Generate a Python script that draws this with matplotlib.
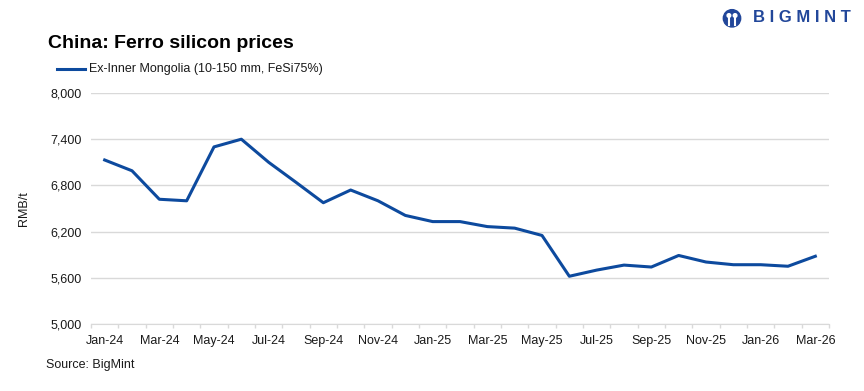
import numpy as np
import matplotlib
matplotlib.use('Agg')
import matplotlib.pyplot as plt
from matplotlib.patches import Circle

plt.rcParams['font.family'] = ['Liberation Sans', 'DejaVu Sans']

months = ['Jan-24', 'Feb-24', 'Mar-24', 'Apr-24', 'May-24', 'Jun-24', 'Jul-24',
          'Aug-24', 'Sep-24', 'Oct-24', 'Nov-24', 'Dec-24', 'Jan-25', 'Feb-25',
          'Mar-25', 'Apr-25', 'May-25', 'Jun-25', 'Jul-25', 'Aug-25', 'Sep-25',
          'Oct-25', 'Nov-25', 'Dec-25', 'Jan-26', 'Feb-26', 'Mar-26']
prices = [7130, 6990, 6620, 6600, 7300, 7400, 7100, 6840, 6575, 6740, 6600,
          6410, 6330, 6330, 6265, 6245, 6150, 5620, 5700, 5765, 5740, 5890,
          5805, 5770, 5770, 5750, 5880]
series_name = 'Ex-Inner Mongolia (10-150 mm, FeSi75%)'
yticks = [5000, 5600, 6200, 6800, 7400, 8000]

line_c = '#0d4a9e'
text_c = '#1a1a1a'

dpi = 100
fig = plt.figure(figsize=(864/dpi, 391/dpi), dpi=dpi)
ax = fig.add_axes([91/864, 1 - 324/391, (829 - 91)/864, (324 - 93)/391])

x = np.arange(len(months))
ax.plot(x, prices, color=line_c, lw=2.2, solid_joinstyle='round')

ax.set_xlim(-0.5, len(months) - 0.5)
ax.set_ylim(5000, 8000)
ax.set_yticks(yticks)
ax.set_yticklabels([f'{v:,}' for v in yticks], fontsize=9, color=text_c)
ax.yaxis.grid(True, color='#d9d9d9', lw=1)
ax.set_axisbelow(True)
ax.tick_params(axis='y', length=0, pad=7)

ax.set_xticks(x[::2])
ax.set_xticklabels(months[::2], fontsize=9, color=text_c)
ax.set_xticks(np.arange(len(months) + 1) - 0.5, minor=True)
ax.tick_params(axis='x', which='major', length=0, pad=8)
ax.tick_params(axis='x', which='minor', length=3, color='#d9d9d9', width=1)

for s in ['top', 'right', 'left']:
    ax.spines[s].set_visible(False)
ax.spines['bottom'].set_color('#d9d9d9')
ax.set_ylabel('RMB/t', fontsize=9, color=text_c, labelpad=14)

fig.text(48/864, 1 - 43/391, 'China: Ferro silicon prices', fontsize=14,
         fontweight='bold', color='black', va='center', ha='left')
fig.lines.append(plt.Line2D([57/864, 85/864], [1 - 69/391, 1 - 69/391],
                            color=line_c, lw=2.2, transform=fig.transFigure))
fig.text(89/864, 1 - 69/391, series_name, fontsize=9, color=text_c,
         va='center', ha='left')
fig.text(46/864, 1 - 365/391, 'Source: BigMint', fontsize=9, color=text_c,
         va='center', ha='left')

# logo
logo_c = '#22479a'
lax = fig.add_axes([718/864, 1 - 33/391, 28/864, 28/391])
lax.set_xlim(-1, 1)
lax.set_ylim(-1, 1)
lax.set_aspect('equal')
lax.axis('off')
lax.add_patch(Circle((0, 0.05), 0.62, color=logo_c))
lax.add_patch(Circle((-0.22, 0.25), 0.13, color='white'))
lax.add_patch(Circle((0.22, 0.25), 0.13, color='white'))
lax.plot([-0.22, -0.22], [0.05, -0.45], color='white', lw=1.5)
lax.plot([0.22, 0.22], [0.05, -0.45], color='white', lw=1.5)
fig.text(753/864, 1 - 18/391, 'B I G M I N T', fontsize=12, fontweight='bold',
         color=logo_c, va='center', ha='left')

fig.savefig('out.png', dpi=dpi)
